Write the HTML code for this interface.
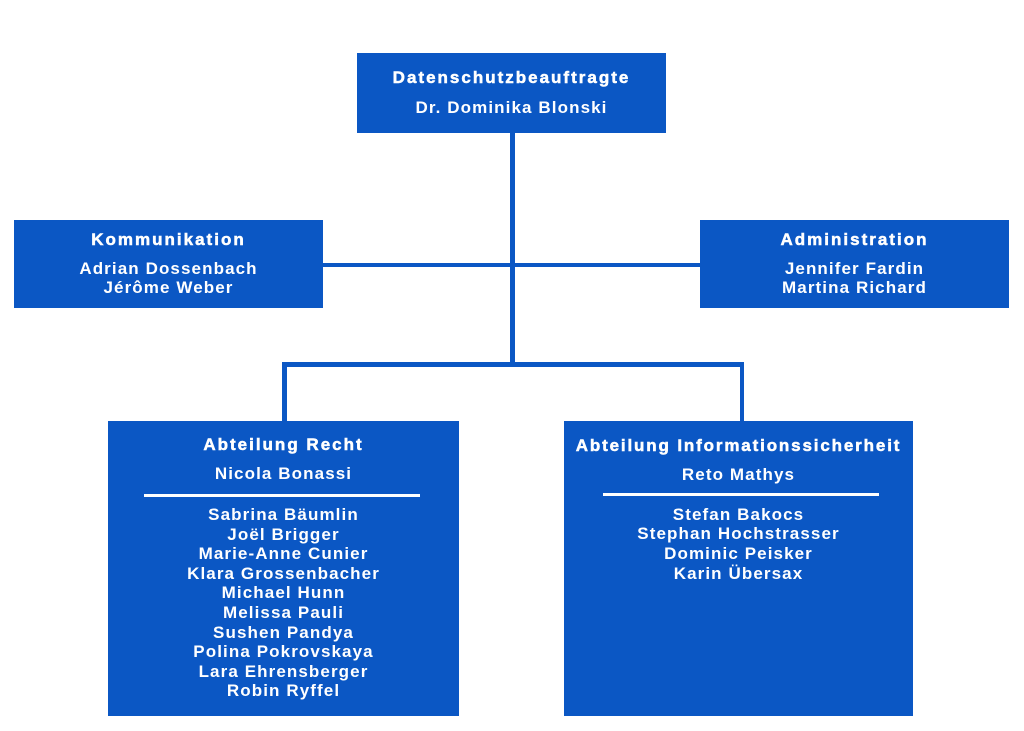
<!DOCTYPE html>
<html><head><meta charset="utf-8"><style>
html,body{margin:0;padding:0;background:#fff;}
body{width:1024px;height:731px;position:relative;overflow:hidden;font-family:"Liberation Sans",Arial,sans-serif;}
.b{position:absolute;background:#0b57c4;}
.l{position:absolute;background:#0b57c4;}
.t{position:absolute;height:20px;line-height:20px;color:#fff;font-size:17px;font-weight:bold;white-space:nowrap;text-align:center;letter-spacing:1.1px;}
.h{letter-spacing:2px;-webkit-text-stroke:0.5px #fff;}
.r{position:absolute;background:#fff;height:3px;}
</style></head><body>
<!-- connectors -->
<div class="l" style="left:510px;top:130px;width:4.5px;height:236px;"></div>
<div class="l" style="left:320px;top:262.5px;width:384px;height:4.5px;"></div>
<div class="l" style="left:282px;top:362px;width:462px;height:4.5px;"></div>
<div class="l" style="left:282px;top:362px;width:4.5px;height:62px;"></div>
<div class="l" style="left:739.5px;top:362px;width:4.5px;height:62px;"></div>

<!-- top box -->
<div class="b" style="left:357px;top:53px;width:309px;height:80px;"></div>
<div class="t h" style="left:357px;width:309px;top:67.5px;">Datenschutzbeauftragte</div>
<div class="t" style="left:357px;width:309px;top:98px;">Dr. Dominika Blonski</div>

<!-- left box -->
<div class="b" style="left:14px;top:220px;width:309px;height:88px;"></div>
<div class="t h" style="left:14px;width:309px;top:230px;">Kommunikation</div>
<div class="t" style="left:14px;width:309px;top:258.5px;">Adrian Dossenbach</div>
<div class="t" style="left:14px;width:309px;top:278px;">Jérôme Weber</div>

<!-- right box -->
<div class="b" style="left:700px;top:220px;width:309px;height:88px;"></div>
<div class="t h" style="left:700px;width:309px;top:229.5px;">Administration</div>
<div class="t" style="left:700px;width:309px;top:258.5px;">Jennifer Fardin</div>
<div class="t" style="left:700px;width:309px;top:278px;">Martina Richard</div>

<!-- bottom left -->
<div class="b" style="left:108px;top:421px;width:351px;height:295px;"></div>
<div class="t h" style="left:108px;width:351px;top:434.5px;">Abteilung Recht</div>
<div class="t" style="left:108px;width:351px;top:464px;">Nicola Bonassi</div>
<div class="r" style="left:144px;width:276px;top:494px;"></div>
<div class="t" style="left:108px;width:351px;top:505px;">Sabrina Bäumlin</div>
<div class="t" style="left:108px;width:351px;top:524.6px;">Joël Brigger</div>
<div class="t" style="left:108px;width:351px;top:544.2px;">Marie-Anne Cunier</div>
<div class="t" style="left:108px;width:351px;top:563.8px;">Klara Grossenbacher</div>
<div class="t" style="left:108px;width:351px;top:583.4px;">Michael Hunn</div>
<div class="t" style="left:108px;width:351px;top:603px;">Melissa Pauli</div>
<div class="t" style="left:108px;width:351px;top:622.6px;">Sushen Pandya</div>
<div class="t" style="left:108px;width:351px;top:642.2px;">Polina Pokrovskaya</div>
<div class="t" style="left:108px;width:351px;top:661.8px;">Lara Ehrensberger</div>
<div class="t" style="left:108px;width:351px;top:681.4px;">Robin Ryffel</div>

<!-- bottom right -->
<div class="b" style="left:564px;top:421px;width:349px;height:295px;"></div>
<div class="t h" style="left:564px;width:349px;top:435.5px;letter-spacing:1.85px;">Abteilung Informationssicherheit</div>
<div class="t" style="left:564px;width:349px;top:465px;">Reto Mathys</div>
<div class="r" style="left:603px;width:276px;top:493px;"></div>
<div class="t" style="left:564px;width:349px;top:504.5px;">Stefan Bakocs</div>
<div class="t" style="left:564px;width:349px;top:524.2px;">Stephan Hochstrasser</div>
<div class="t" style="left:564px;width:349px;top:543.9px;">Dominic Peisker</div>
<div class="t" style="left:564px;width:349px;top:563.6px;">Karin Übersax</div>
</body></html>
